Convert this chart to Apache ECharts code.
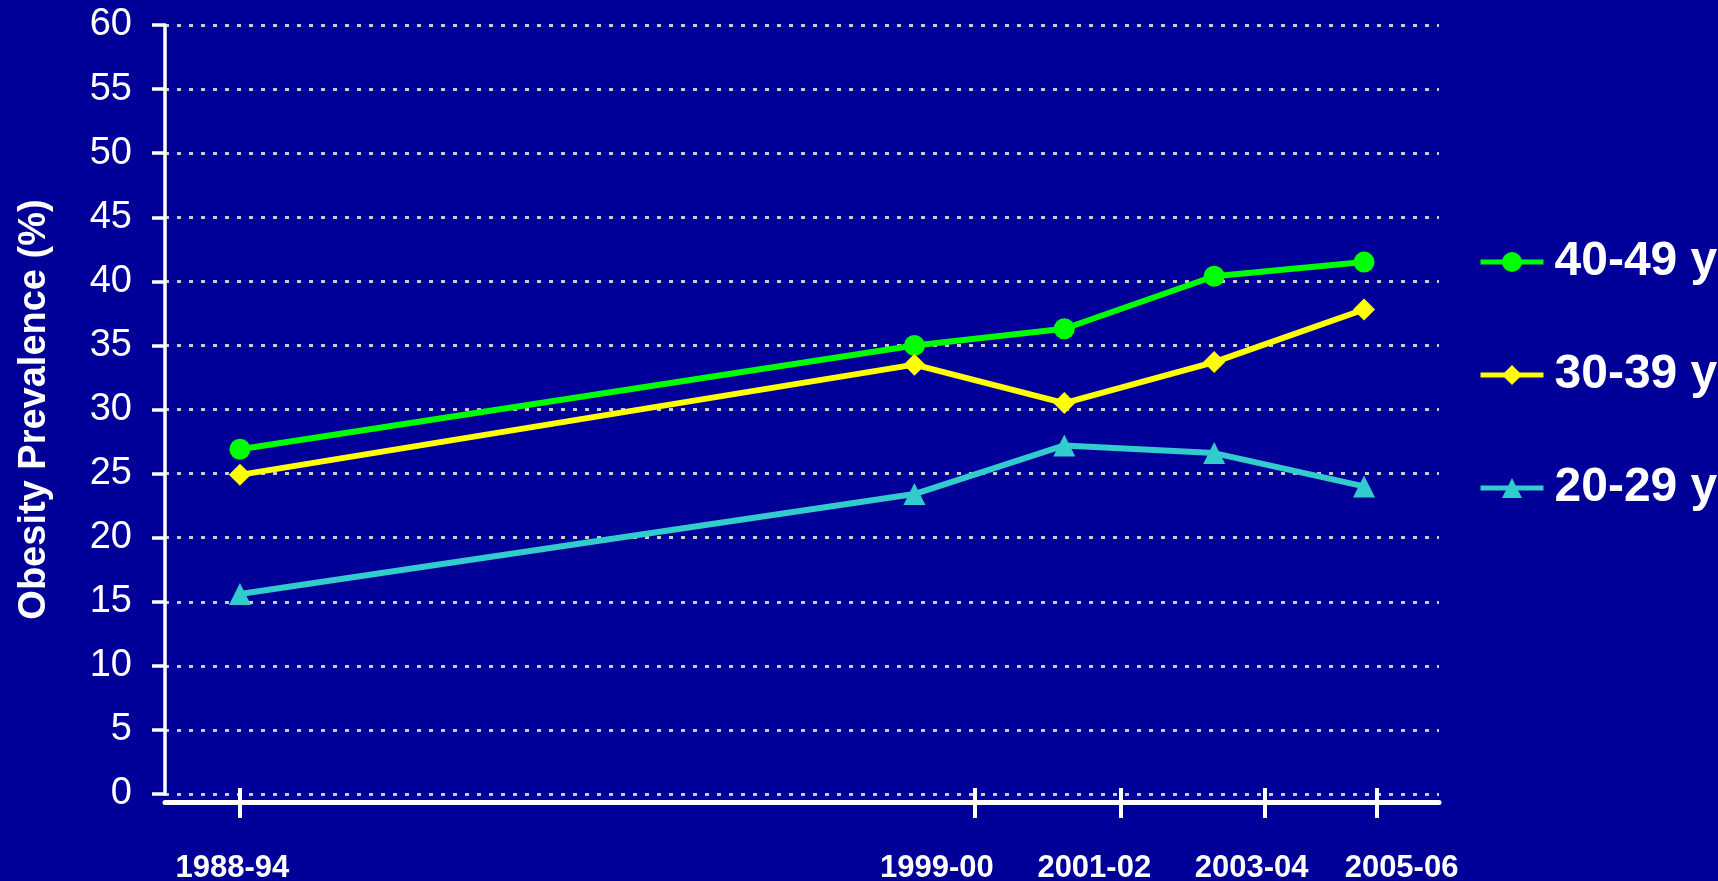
<!DOCTYPE html>
<html>
<head>
<meta charset="utf-8">
<title>Obesity Prevalence</title>
<script src="https://cdn.jsdelivr.net/npm/echarts@6/dist/echarts.min.js"></script>
<style>
    html, body { margin: 0; padding: 0; background: #000099; }
    #chart { width: 1718px; height: 881px; }
</style>
</head>
<body>
<div id="chart"></div>
<script>
// survey periods, plotted at the middle year of each period
var periods = ['1988-94', '1999-00', '2001-02', '2003-04', '2005-06'];
var periodYears = [1991, 2000, 2002, 2004, 2006];

// obesity prevalence (%) by age group
var age4049 = [26.9, 35.0, 36.3, 40.4, 41.5];
var age3039 = [24.9, 33.5, 30.5, 33.7, 37.8];
var age2029 = [15.6, 23.4, 27.2, 26.6, 24.0];

// the tick marks and labels of the x axis sit a bit off the points in the original
var xTickValues = [1991, 2000.8, 2002.75, 2004.67, 2006.17];
var xLabelValues = [1990.9, 2000.3, 2002.4, 2004.5, 2006.5];

var yTicks = [0, 5, 10, 15, 20, 25, 30, 35, 40, 45, 50, 55, 60];

var font = "'Liberation Sans', Arial, Helvetica, sans-serif";

function pairs(values) {
    var out = [];
    for (var i = 0; i < values.length; i++) {
        out.push([periodYears[i], values[i]]);
    }
    return out;
}

function periodLabel(value) {
    var best = 0;
    for (var i = 1; i < xLabelValues.length; i++) {
        if (Math.abs(xLabelValues[i] - value) < Math.abs(xLabelValues[best] - value)) best = i;
    }
    return periods[best];
}

function lineSeries(name, values, color, symbol) {
    return {
        name: name,
        type: 'line',
        data: pairs(values),
        symbol: symbol,
        symbolSize: symbol === 'circle' ? 21 : 22,
        lineStyle: { color: color, width: 6 },
        itemStyle: { color: color },
        emphasis: { disabled: true }
    };
}

var chart = echarts.init(document.getElementById('chart'));

chart.setOption({
    backgroundColor: '#000099',
    animation: false,
    textStyle: { fontFamily: font },
    grid: {
        left: 165,
        right: 279,
        top: 25,
        bottom: 87,
        outerBoundsMode: 'none'
    },
    legend: {
        orient: 'vertical',
        left: 1473,
        top: 233,
        itemWidth: 63,
        itemHeight: 25,
        itemGap: 65,
        lineStyle: { width: 5 },
        textStyle: {
            color: '#ffffff',
            fontSize: 48,
            fontWeight: 'bold',
            fontFamily: font,
            padding: [0, 0, 0, 6]
        },
        data: ['40-49 y', '30-39 y', '20-29 y']
    },
    xAxis: [{
        // ticks and labels
        type: 'value',
        position: 'bottom',
        min: 1990,
        max: 2007,
        offset: -6,
        axisLine: { show: false },
        axisTick: {
            show: true,
            length: 30,
            customValues: xTickValues,
            lineStyle: { color: '#ffffff', width: 4 }
        },
        axisLabel: {
            customValues: xLabelValues,
            formatter: periodLabel,
            margin: 65,
            color: '#ffffff',
            fontSize: 31,
            fontWeight: 'bold',
            fontFamily: font
        },
        splitLine: { show: false }
    }, {
        // the axis line itself, drawn a little below the zero line
        type: 'value',
        position: 'bottom',
        min: 1990,
        max: 2007,
        offset: 8,
        axisLine: { show: true, lineStyle: { color: '#ffffff', width: 5 } },
        axisTick: { show: false },
        axisLabel: { show: false },
        splitLine: { show: false }
    }],
    yAxis: {
        type: 'value',
        min: yTicks[0],
        max: yTicks[yTicks.length - 1],
        interval: 5,
        name: 'Obesity Prevalence (%)',
        nameLocation: 'middle',
        nameRotate: 90,
        nameGap: 111,
        nameTextStyle: {
            color: '#ffffff',
            fontSize: 38,
            fontWeight: 'bold',
            fontFamily: font
        },
        axisLine: { show: true, lineStyle: { color: '#ffffff', width: 3.5 } },
        axisTick: { show: true, length: 13, lineStyle: { color: '#ffffff', width: 3.5 } },
        axisLabel: {
            margin: 33,
            color: '#ffffff',
            fontSize: 38,
            fontFamily: font
        },
        splitLine: {
            show: true,
            lineStyle: { color: '#cccccc', width: 3, type: [4, 8] }
        }
    },
    series: [
        lineSeries('40-49 y', age4049, '#00ff00', 'circle'),
        lineSeries('30-39 y', age3039, '#ffff00', 'diamond'),
        lineSeries('20-29 y', age2029, '#33cccc', 'triangle')
    ]
});
</script>
</body>
</html>
